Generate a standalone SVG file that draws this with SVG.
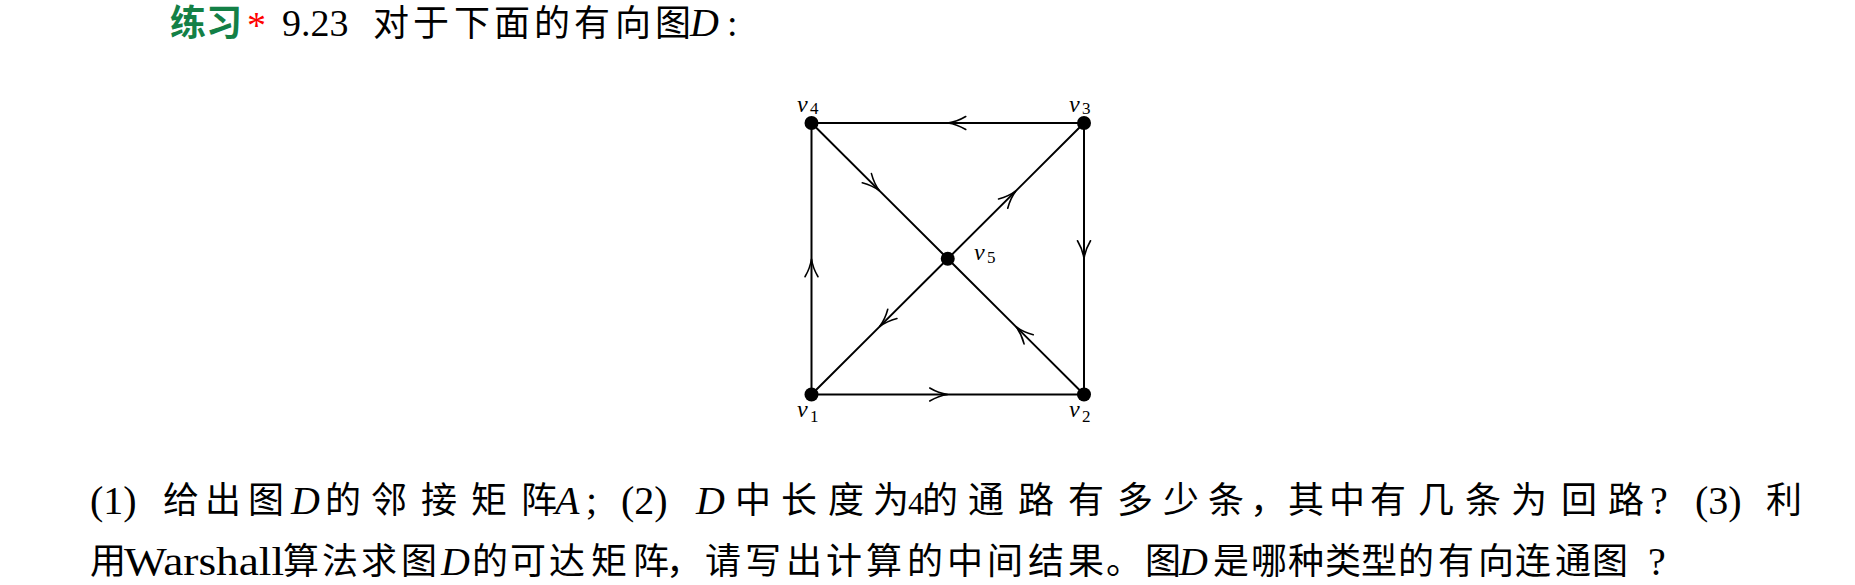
<svg xmlns="http://www.w3.org/2000/svg" width="1855" height="585" viewBox="0 0 1855 585">
<style>
.cjk{font-family:"Noto Sans CJK SC","Noto Sans CJK TC",sans-serif;font-size:36px;fill:#000}
.lat{font-family:"Liberation Serif",serif;font-size:40px;fill:#000}
.it{font-family:"Liberation Serif",serif;font-style:italic;font-size:40px;fill:#000}
.edge{stroke:#000;stroke-width:2;fill:none;marker-mid:url(#arr)}
.dot{fill:#000}
.lv{font-family:"Liberation Serif",serif;font-style:italic;font-size:24px;fill:#000}
.ls{font-family:"Liberation Serif",serif;font-size:17px;fill:#000}
</style>
<defs>
<marker id="arr" markerUnits="userSpaceOnUse" viewBox="-22 -10 24 20" refX="0" refY="0" markerWidth="24" markerHeight="20" orient="auto" overflow="visible">
<path d="M-18,-6.5 Q-9,-1.2 0,0 Q-9,1.2 -18,6.5" fill="none" stroke="#000" stroke-width="1.6" stroke-linecap="round"/>
</marker>
</defs>
<rect width="1855" height="585" fill="#fff"/>

<g id="title">
<text x="170" y="36" style="font-family:'Noto Sans CJK SC',sans-serif;font-size:36px;font-weight:bold;fill:#138046">练习</text>
<text x="247" y="38" style="font-family:'Liberation Serif',serif;font-size:38px;fill:#ff0000">*</text>
<text x="282" y="36" style="font-family:'Liberation Serif',serif;font-size:38px;fill:#000">9.23</text>
<text class="cjk" y="36" x="373 413 454 494 534 574 615 655">对于下面的有向图</text>
<text x="690" y="36" style="font-family:'Liberation Serif',serif;font-style:italic;font-size:40px;fill:#000">D</text>
<text x="727" y="36" style="font-family:'Liberation Serif',serif;font-size:38px;fill:#000">:</text>
</g>

<g id="connectors">
<path class="edge" d="M1084,123 L947.75,123 L811.5,123"/>
<path class="edge" d="M811.5,394.5 L947.75,394.5 L1084,394.5"/>
<path class="edge" d="M811.5,394.5 L811.5,258.75 L811.5,123"/>
<path class="edge" d="M1084,123 L1084,258.75 L1084,394.5"/>
<path class="edge" d="M811.5,123 L879.6,190.9 L947.75,258.75"/>
<path class="edge" d="M947.75,258.75 L1015.9,190.9 L1084,123"/>
<path class="edge" d="M947.75,258.75 L879.6,326.6 L811.5,394.5"/>
<path class="edge" d="M1084,394.5 L1015.9,326.6 L947.75,258.75"/>
</g>

<g id="v4">
<circle class="dot" cx="811.5" cy="123" r="7"/>
<text class="lv" x="797" y="112">v</text><text class="ls" x="810" y="114">4</text>
</g>
<g id="v3">
<circle class="dot" cx="1084" cy="123" r="7"/>
<text class="lv" x="1069" y="112">v</text><text class="ls" x="1082" y="114">3</text>
</g>
<g id="v5">
<circle class="dot" cx="947.75" cy="258.75" r="7"/>
<text class="lv" x="974" y="260">v</text><text class="ls" x="987" y="263">5</text>
</g>
<g id="v1">
<circle class="dot" cx="811.5" cy="394.5" r="7"/>
<text class="lv" x="797" y="417">v</text><text class="ls" x="810" y="422">1</text>
</g>
<g id="v2">
<circle class="dot" cx="1084" cy="394.5" r="7"/>
<text class="lv" x="1069" y="417">v</text><text class="ls" x="1082" y="422">2</text>
</g>

<g id="question">
<text class="lat" x="90" y="514">(1)</text>
<text class="cjk" y="513" x="163 205 248">给出图</text>
<text class="it" x="291" y="514">D</text>
<text class="cjk" y="513" x="325 371 421 471 521">的邻接矩阵</text>
<text class="it" x="555" y="514">A</text>
<text class="lat" x="586" y="514">;</text>
<text class="lat" x="621" y="514">(2)</text>
<text class="it" x="696" y="514">D</text>
<text class="cjk" y="513" x="735 781 828 873">中长度为</text>
<text class="lat" x="908" y="514" style="font-size:32px">4</text>
<text class="cjk" y="513" x="922 968 1018 1068 1117 1163 1208 1250 1288 1329 1370 1418 1465 1511 1561 1608">的通路有多少条，其中有几条为回路</text>
<text class="lat" x="1650" y="514">?</text>
<text class="lat" x="1695" y="514">(3)</text>
<text class="cjk" y="513" x="1766">利</text>

<text class="cjk" y="574" x="90">用</text>
<text class="lat" x="124" y="575" textLength="160" lengthAdjust="spacingAndGlyphs">Warshall</text>
<text class="cjk" y="574" x="283 322 361 401">算法求图</text>
<text class="it" x="441" y="575">D</text>
<text class="cjk" y="574" x="472 510 549 591 633 666 705 745 786 826 866 907 947 987 1028 1068 1106 1145">的可达矩阵，请写出计算的中间结果。图</text>
<text class="it" x="1179" y="575">D</text>
<text class="cjk" y="574" x="1213 1251 1288 1325 1361 1398 1438 1478 1515 1555 1592">是哪种类型的有向连通图</text>
<text class="lat" x="1648" y="575">?</text>
</g>
</svg>
